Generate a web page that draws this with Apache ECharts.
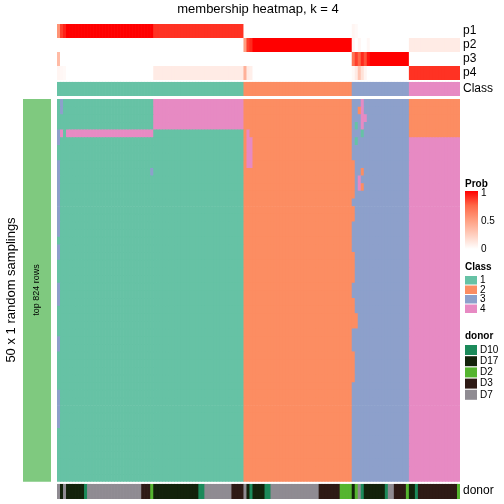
<!DOCTYPE html>
<html><head><meta charset="utf-8">
<script src="https://cdn.jsdelivr.net/npm/echarts@6/dist/echarts.min.js"></script>
<style>html,body{margin:0;padding:0;background:#fff}#c{width:504px;height:504px}</style>
</head><body><div id="c"></div>
<script>
// ---- data ----
const classNames = ['1','2','3','4'];
const classColors = ['#66C2A5','#FC8D62','#8DA0CB','#E78AC3'];
const donorNames = ['D10','D17','D2','D3','D7'];
const donorColors = ['#1B8A5A','#13220B','#55B52F','#2E1A15','#8F8B92'];
const probRows = ['p1','p2','p3','p4'];
const probTicks = ['1','0.5','0'];

// consensus class of each of the 134 columns
const sampleClass = [
1,1,1,1,1,1,1,1,1,1,1,1,1,1,1,1,1,1,1,1,1,1,1,1,1,1,1,1,1,1,1,1,
1,1,1,1,1,1,1,1,1,1,1,1,1,1,1,1,1,1,1,1,1,1,1,1,1,1,1,1,1,1,
2,2,2,2,2,2,2,2,2,2,2,2,2,2,2,2,2,2,2,2,2,2,2,2,2,2,2,2,2,2,2,2,2,2,2,2,
3,3,3,3,3,3,3,3,3,3,3,3,3,3,3,3,3,3,3,
4,4,4,4,4,4,4,4,4,4,4,4,4,4,4,4,4];

const p1 = [0.55,0.85,0.92,
1,1,1,1,1,1,1,1,1,1,1,1,1,1,1,1,1,1,1,1,1,1,1,1,1,1,1,1,1,
0.88,0.88,0.88,0.88,0.88,0.88,0.88,0.88,0.88,0.88,0.88,0.88,0.88,0.88,0.88,0.88,0.88,0.88,0.88,0.88,0.88,0.88,0.88,0.88,0.88,0.88,0.88,0.88,0.88,0.88,
0,0,0,0,0,0,0,0,0,0,0,0,0,0,0,0,0,0,0,0,0,0,0,0,0,0,0,0,0,0,0,0,0,0,0,0,
0.05,0.03,0,0,0,0,0,0,0,0,0,0,0,0,0,0,0,0,0,
0,0,0,0,0,0,0,0,0,0,0,0,0,0,0,0,0];
const p2 = [
0,0,0,0,0,0,0,0,0,0,0,0,0,0,0,0,0,0,0,0,0,0,0,0,0,0,0,0,0,0,0,0,
0,0,0,0,0,0,0,0,0,0,0,0,0,0,0,0,0,0,0,0,0,0,0,0,0,0,0,0,0,0,
0.5,0.85,0.9,1,1,1,1,1,1,1,1,1,1,1,1,1,1,1,1,1,1,1,1,1,1,1,1,1,1,1,1,1,1,1,1,1,
0.05,0,0.05,0,0,0.04,0,0,0,0,0,0,0,0,0,0,0,0,0,
0.1,0.1,0.1,0.1,0.1,0.1,0.1,0.1,0.1,0.1,0.1,0.1,0.1,0.1,0.1,0.1,0.1];
const p3 = [0.35,
0,0,0,0,0,0,0,0,0,0,0,0,0,0,0,0,0,0,0,0,0,0,0,0,0,0,0,0,0,0,0,
0,0,0,0,0,0,0,0,0,0,0,0,0,0,0,0,0,0,0,0,0,0,0,0,0,0,0,0,0,0,
0,0,0,0,0,0,0,0,0,0,0,0,0,0,0,0,0,0,0,0,0,0,0,0,0,0,0,0,0,0,0,0,0,0,0,0,
0.7,0.85,0.75,0.9,0.8,0.95,1,1,1,1,1,1,1,1,1,1,1,1,1,
0,0,0,0,0,0,0,0,0,0,0,0,0,0,0,0,0];
const p4 = [0.05,0.04,0.03,
0,0,0,0,0,0,0,0,0,0,0,0,0,0,0,0,0,0,0,0,0,0,0,0,0,0,0,0,0,
0.1,0.1,0.1,0.1,0.1,0.1,0.1,0.1,0.1,0.1,0.1,0.1,0.1,0.1,0.1,0.1,0.1,0.1,0.1,0.1,0.1,0.1,0.1,0.1,0.1,0.1,0.1,0.1,0.1,0.1,
0.4,0.1,0.08,0,0,0,0,0,0,0,0,0,0,0,0,0,0,0,0,0,0,0,0,0,0,0,0,0,0,0,0,0,0,0,0,0,
0.03,0.1,0.3,0.15,0.05,0,0,0,0,0,0,0,0,0,0,0,0,0,0,
0.88,0.88,0.88,0.88,0.88,0.88,0.88,0.88,0.88,0.88,0.88,0.88,0.88,0.88,0.88,0.88,0.88];

const donor = [
'D7','D17','D7','D17','D17','D17','D17','D17','D17','D10',
'D7','D7','D7','D7','D7','D7','D7','D7','D7','D7','D7','D7','D7','D7','D7','D7','D7','D7',
'D3','D3','D3','D2',
'D17','D17','D17','D17','D17','D17','D17','D17','D17','D17','D17','D17','D17','D17','D17',
'D10','D10','D7','D7','D7','D7','D7','D7','D7','D7','D7','D3','D3','D3','D3',
'D7','D17','D10','D17','D17','D17','D17','D10','D10',
'D7','D7','D7','D7','D7','D7','D7','D7','D7','D7','D7','D7','D7','D7','D7','D7',
'D3','D3','D3','D3','D3','D3','D3','D2','D2','D2','D2',
'D17','D2','D7','D10','D17','D17','D17','D17','D17','D17','D17','D10','D7','D7','D3','D3','D3','D3','D2',
'D17','D17','D10','D3','D3','D3','D3','D3','D3','D3','D3','D3','D3','D3','D3','D3','D2'];

// 50 samplings: class differs from consensus in these blocks [rowFrom,rowTo,colFrom,colTo,class]
const nSamplings = 50;
const deviations = [
[0,3,32,61,4],
[4,4,0,0,3],[4,4,1,1,4],[4,4,3,31,4],
[0,4,117,133,2],
[4,4,63,63,4],[5,8,63,64,4],
[9,9,31,31,3],
[0,3,101,101,4],[1,1,100,100,2],[2,2,102,102,4],[3,3,99,99,1],[4,4,101,101,1],[5,5,99,99,1],
[8,12,98,98,2],[9,9,101,101,2],[10,11,100,100,4],[11,11,101,101,2],
[5,5,0,0,3],[8,12,0,0,3],[0,1,1,1,3],
[13,17,0,0,3],[19,20,0,0,3],[24,26,0,0,3],[31,32,0,0,3],[38,42,0,0,3],
[14,15,98,98,2],[20,23,98,98,2],[26,29,98,98,2],[33,36,98,98,2],[28,29,99,99,2]
];

// ---- build ----
const cols = sampleClass.map((_, i) => 'c' + i);
const rowsIdx = Array.from({length: nSamplings}, (_, i) => 'r' + i);
const probData = [];
[p1, p2, p3, p4].forEach((arr, r) => arr.forEach((v, c) => probData.push([c, r, v])));
const classData = sampleClass.map((v, c) => [c, 0, v]);
const donorData = donor.map((d, c) => [c, 0, donorNames.indexOf(d)]);
const mat = [];
for (let r = 0; r < nSamplings; r++) mat.push(sampleClass.slice());
deviations.forEach(([r0, r1, c0, c1, k]) => {
  for (let r = r0; r <= r1; r++) for (let c = c0; c <= c1; c++) mat[r][c] = k;
});
const mainData = [];
mat.forEach((row, r) => row.forEach((v, c) => mainData.push([c, r, v])));

const L = 57, W = 403;
const grids = [
  {left: L, width: W, top: 24, height: 56},
  {left: L, width: W, top: 81.7, height: 14.3},
  {left: L, width: W, top: 99, height: 382.7},
  {left: L, width: W, top: 483.7, height: 15.3}
];
const yCats = [probRows, ['Class'], rowsIdx, ['donor']];
const FONT = 'Liberation Sans, Arial, Helvetica, sans-serif';

const chart = echarts.init(document.getElementById('c'), null, {renderer: 'canvas'});
const g = [];
const txt = (x, y, s, opt) => g.push({type: 'text', x, y, style: Object.assign({text: s, fontFamily: FONT, fontSize: 12, fill: '#000', textVerticalAlign: 'middle'}, opt || {})});
g.push({type: 'text', x: 258, y: 9, style: {text: 'membership heatmap, k = 4', fontFamily: FONT, fontSize: 13, fill: '#000', textAlign: 'center', textVerticalAlign: 'middle'}});
probRows.forEach((p, i) => txt(463, 31 + i * 14, p));
txt(463, 89, 'Class');
txt(463, 491, 'donor');
g.push({type: 'text', x: 11, y: 290, rotation: Math.PI / 2, style: {text: '50 x 1 random samplings', fontFamily: FONT, fontSize: 13, fill: '#000', textAlign: 'center', textVerticalAlign: 'middle'}});
g.push({type: 'rect', shape: {x: 23, y: 99, width: 28, height: 382.7}, style: {fill: '#7FC97F'}});
g.push({type: 'text', x: 37, y: 290, rotation: Math.PI / 2, style: {text: 'top 824 rows', fontFamily: FONT, fontSize: 9, fill: '#000', textAlign: 'center', textVerticalAlign: 'middle'}});
txt(465, 184, 'Prob', {fontWeight: 'bold', fontSize: 10});
g.push({type: 'rect', shape: {x: 465, y: 191, width: 13, height: 58}, style: {fill: new echarts.graphic.LinearGradient(0, 0, 0, 1, [
  {offset: 0, color: '#FF0000'}, {offset: 0.25, color: '#FF6848'}, {offset: 0.5, color: '#FF9E80'}, {offset: 0.75, color: '#FFCEBE'}, {offset: 1, color: '#FFFFFF'}])}});
probTicks.forEach((t, i) => txt(481, 193 + i * 28, t, {fontSize: 10}));
txt(465, 267, 'Class', {fontWeight: 'bold', fontSize: 10});
classNames.forEach((n, i) => {
  g.push({type: 'rect', shape: {x: 465, y: 276 + i * 9.5, width: 12, height: 8.5}, style: {fill: classColors[i]}});
  txt(480, 280.5 + i * 9.5, n, {fontSize: 10});
});
txt(465, 336, 'donor', {fontWeight: 'bold', fontSize: 10});
donorNames.forEach((n, i) => {
  g.push({type: 'rect', shape: {x: 465, y: 345 + i * 11.2, width: 12, height: 10}, style: {fill: donorColors[i]}});
  txt(480, 350 + i * 11.2, n, {fontSize: 10});
});

function cell(params, api) {
  const p = api.coord([api.value(0), api.value(1)]);
  const s = api.size([1, 1]);
  return {type: 'rect', shape: {x: p[0] - s[0] / 2, y: p[1] - s[1] / 2, width: s[0] + 0.7, height: s[1] + 0.7},
          style: {fill: api.visual('color')}};
}

chart.setOption({
  animation: false,
  grid: grids,
  xAxis: grids.map((_, i) => ({type: 'category', gridIndex: i, data: cols, show: false})),
  yAxis: grids.map((_, i) => ({type: 'category', gridIndex: i, data: yCats[i], inverse: true, show: false})),
  visualMap: [
    {show: false, type: 'continuous', min: 0, max: 1, seriesIndex: 0, dimension: 2,
     inRange: {color: ['#FFFFFF', '#FFCEBE', '#FF9E80', '#FF6848', '#FF0000']}},
    {show: false, type: 'piecewise', seriesIndex: [1, 2], dimension: 2,
     pieces: classNames.map((n, i) => ({value: i + 1, color: classColors[i]}))},
    {show: false, type: 'piecewise', seriesIndex: 3, dimension: 2,
     pieces: donorNames.map((n, i) => ({value: i, color: donorColors[i]}))}
  ],
  series: [probData, classData, mainData, donorData].map((d, i) => ({
    type: 'custom', xAxisIndex: i, yAxisIndex: i, data: d, clip: true,
    encode: {x: 0, y: 1}, renderItem: cell, progressive: 0, silent: true
  })),
  graphic: g
});
</script></body></html>
